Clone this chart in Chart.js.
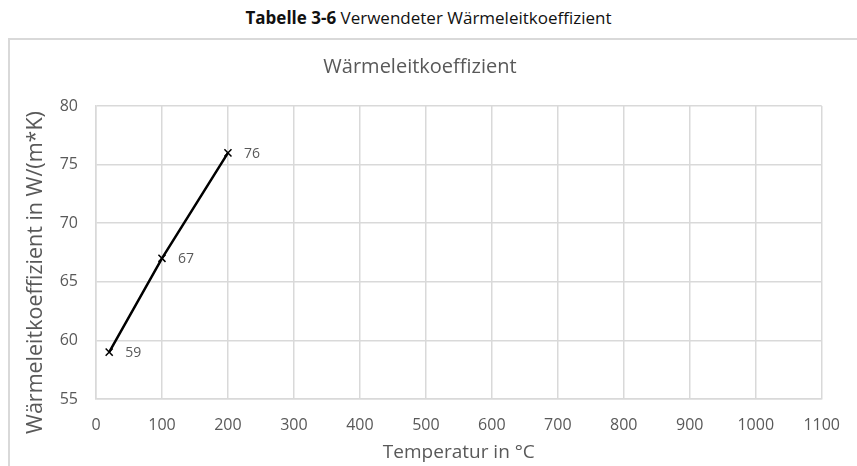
<!DOCTYPE html>
<html><head><meta charset="utf-8">
<script src="https://cdn.jsdelivr.net/npm/chart.js@4/dist/chart.umd.min.js"></script>
<style>
html,body{margin:0;padding:0;background:#fff;width:857px;height:466px;overflow:hidden}
#box{position:absolute;left:8px;top:38px;width:900px;height:500px;border-left:2px solid #d9d9d9;border-top:2px solid #d9d9d9}
#cap{position:absolute;left:0;top:5px;width:857px;text-align:center;font-family:"Open Sans",sans-serif;font-size:17px;line-height:26px;color:#111}
#c{position:absolute;left:0;top:0}
</style></head><body>
<div id="box"></div>
<div id="cap"><b>Tabelle 3-6</b> Verwendeter Wärmeleitkoeffizient</div>
<canvas id="c" width="857" height="466"></canvas>
<script>
const temperatures = [20, 100, 200];
const conductivity = [59, 67, 76];
const xTickValues = [0, 100, 200, 300, 400, 500, 600, 700, 800, 900, 1000, 1100];
const yTickValues = [55, 60, 65, 70, 75, 80];
const chartTitle = 'Wärmeleitkoeffizient';
const xTitle = 'Temperatur in °C';
const yTitle = 'Wärmeleitkoeffizient in W/(m*K)';

const FONT = '"Open Sans", sans-serif';
const GRID = '#d9d9d9';
const TXT = '#595959';

const dataLabels = {
  id: 'dataLabels',
  afterDatasetsDraw(chart) {
    const ctx = chart.ctx;
    const meta = chart.getDatasetMeta(0);
    ctx.save();
    ctx.font = '14px ' + FONT;
    ctx.fillStyle = TXT;
    ctx.textAlign = 'left';
    ctx.textBaseline = 'middle';
    meta.data.forEach((pt, i) => {
      ctx.fillText(String(conductivity[i]), pt.x + 16, pt.y + 1);
    });
    ctx.restore();
  }
};

// y-axis title, placed like the reference (slightly below the plot centre)
const yAxisTitle = {
  id: 'yAxisTitle',
  afterDraw(chart) {
    const ctx = chart.ctx;
    const area = chart.chartArea;
    ctx.save();
    ctx.font = '21.5px ' + FONT;
    ctx.fillStyle = TXT;
    ctx.textAlign = 'center';
    ctx.textBaseline = 'middle';
    ctx.translate(36, (area.top + area.bottom) / 2 + 20);
    ctx.rotate(-Math.PI / 2);
    ctx.fillText(yTitle, 0, 0);
    ctx.restore();
  }
};

new Chart(document.getElementById('c'), {
  type: 'scatter',
  data: {
    datasets: [{
      data: temperatures.map((t, i) => ({x: t, y: conductivity[i]})),
      showLine: true,
      borderColor: '#000',
      borderWidth: 2.5,
      pointStyle: 'crossRot',
      pointRadius: 5,
      pointBorderWidth: 1.5,
      pointBorderColor: '#000',
      pointBackgroundColor: '#000',
      tension: 0
    }]
  },
  options: {
    responsive: false,
    animation: false,
    layout: {padding: {left: 10, right: 27, top: 0, bottom: 0}},
    plugins: {
      legend: {display: false},
      tooltip: {enabled: false},
      title: {
        display: true,
        text: chartTitle,
        color: TXT,
        font: {family: FONT, size: 20, weight: 'normal'},
        padding: {top: 55, bottom: 27}
      }
    },
    scales: {
      x: {
        type: 'linear',
        min: 0, max: 1100,
        afterBuildTicks: s => { s.ticks = xTickValues.map(v => ({value: v})); },
        afterFit: s => { s.height = 67; },
        grid: {color: GRID, lineWidth: 1.5, drawTicks: false},
        border: {color: GRID, width: 1.5},
        ticks: {color: TXT, font: {family: FONT, size: 16}, padding: 17, maxRotation: 0, callback: v => String(v)},
        title: {display: true, text: xTitle, color: TXT, font: {family: FONT, size: 19}, padding: {top: 0, bottom: 2}}
      },
      y: {
        type: 'linear',
        min: 55, max: 80,
        afterBuildTicks: s => { s.ticks = yTickValues.map(v => ({value: v})); },
        afterFit: s => { s.width = 86; },
        grid: {color: GRID, lineWidth: 1.5, drawTicks: false},
        border: {color: GRID, width: 1.5},
        ticks: {color: TXT, font: {family: FONT, size: 16}, padding: 18, callback: v => String(v)},
        title: {display: false}
      }
    }
  },
  plugins: [dataLabels, yAxisTitle]
});
</script>
</body></html>
